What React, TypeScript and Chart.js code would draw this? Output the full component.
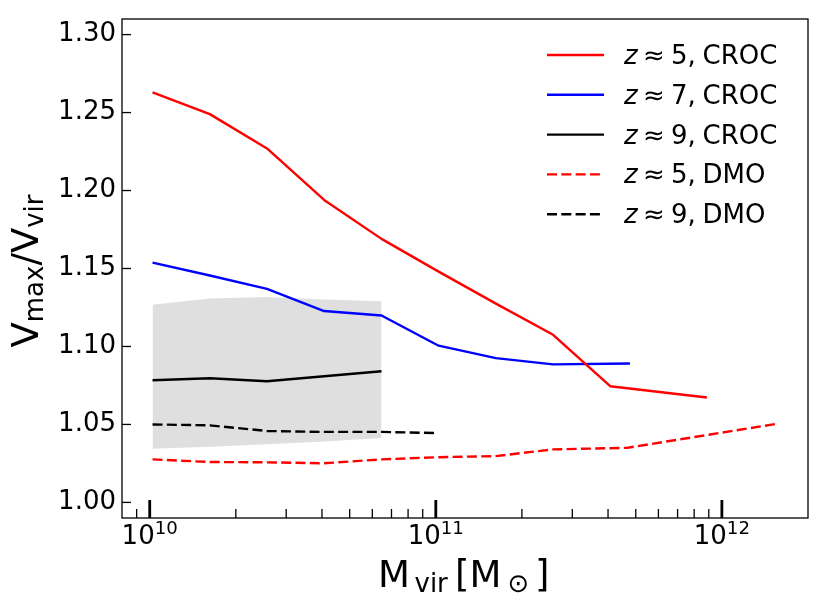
import React, { useEffect, useRef } from "react";
import { Chart, registerables } from "chart.js";

Chart.register(...registerables);

// ---- data ----
const massZ5CROC = [1.023e10, 1.622e10, 2.57e10, 4.07e10, 6.46e10, 1.023e11, 1.622e11, 2.57e11, 4.07e11, 8.86e11];
const vZ5CROC = [1.263, 1.249, 1.227, 1.194, 1.169, 1.148, 1.1275, 1.1075, 1.0745, 1.0673];

const massZ7CROC = [1.023e10, 1.622e10, 2.57e10, 4.07e10, 6.46e10, 1.023e11, 1.622e11, 2.57e11, 4.77e11];
const vZ7CROC = [1.1538, 1.1455, 1.1369, 1.1227, 1.1199, 1.1005, 1.0925, 1.0885, 1.0891];

const massZ9CROC = [1.023e10, 1.622e10, 2.57e10, 4.07e10, 6.46e10];
const vZ9CROC = [1.0783, 1.0796, 1.0777, 1.0809, 1.0841];
const vZ9Upper = [1.1267, 1.1307, 1.1318, 1.1301, 1.129];
const vZ9Lower = [1.0344, 1.0357, 1.0373, 1.039, 1.0413];

const massZ5DMO = [1.023e10, 1.622e10, 2.57e10, 4.07e10, 6.46e10, 1.023e11, 1.622e11, 2.57e11, 4.66e11, 1.57e12];
const vZ5DMO = [1.0276, 1.0259, 1.0257, 1.0251, 1.0276, 1.029, 1.0297, 1.034, 1.035, 1.0505];

const massZ9DMO = [1.023e10, 1.622e10, 2.57e10, 4.07e10, 6.46e10, 1.0e11];
const vZ9DMO = [1.05, 1.0494, 1.0458, 1.0452, 1.0452, 1.0445];

const yTicks = [1.0, 1.05, 1.1, 1.15, 1.2, 1.25, 1.3];
const xMajorTicks = [1e10, 1e11, 1e12];
const xTickBase = ["10", "10", "10"];
const xTickExp = ["10", "11", "12"];
const xMinorTicks = [
  9e9,
  2e10, 3e10, 4e10, 5e10, 6e10, 7e10, 8e10, 9e10,
  2e11, 3e11, 4e11, 5e11, 6e11, 7e11, 8e11, 9e11,
];

const legendZ = ["5", "7", "9", "5", "9"];
const legendRun = ["CROC", "CROC", "CROC", "DMO", "DMO"];

const FONT = '"DejaVu Sans", sans-serif';
const DASH = [10, 4.3];

function pts(xs: number[], ys: number[]) {
  return xs.map((x, i) => ({ x, y: ys[i] }));
}

const decorPlugin = {
  id: "decor",
  afterDraw(chart: any) {
    const { ctx, chartArea: a, scales } = chart;
    const xs = scales.x;
    const ys = scales.y;
    ctx.save();
    ctx.strokeStyle = "#000";
    ctx.fillStyle = "#000";
    const line = (x1: number, y1: number, x2: number, y2: number) => {
      ctx.beginPath();
      ctx.moveTo(x1, y1);
      ctx.lineTo(x2, y2);
      ctx.stroke();
    };
    // y ticks (inward)
    ctx.lineWidth = 1.3;
    for (const v of yTicks) {
      const y = ys.getPixelForValue(v);
      line(a.left, y, a.left + 9, y);
    }
    // x minor ticks
    for (const v of xMinorTicks) {
      if (v <= xs.min || v >= xs.max) continue;
      const x = xs.getPixelForValue(v);
      line(x, a.bottom, x, a.bottom - 9);
    }
    // x major ticks
    ctx.lineWidth = 2.8;
    for (const v of xMajorTicks) {
      const x = xs.getPixelForValue(v);
      line(x, a.bottom, x, a.bottom - 18);
    }
    // frame
    ctx.lineWidth = 1.3;
    ctx.strokeRect(a.left, a.top, a.right - a.left, a.bottom - a.top);

    // x tick labels with superscripts
    ctx.textAlign = "left";
    ctx.textBaseline = "alphabetic";
    xMajorTicks.forEach((v, i) => {
      const x = xs.getPixelForValue(v);
      ctx.font = `26px ${FONT}`;
      const wb = ctx.measureText(xTickBase[i]).width;
      ctx.font = `18.2px ${FONT}`;
      const we = ctx.measureText(xTickExp[i]).width;
      const x0 = x - (wb + we) / 2;
      ctx.font = `26px ${FONT}`;
      ctx.fillText(xTickBase[i], x0, a.bottom + 25.5);
      ctx.font = `18.2px ${FONT}`;
      ctx.fillText(xTickExp[i], x0 + wb, a.bottom + 15.5);
    });

    // x axis title: M_vir [M_sun]
    const cx = (a.left + a.right) / 2;
    const by = a.bottom + 68.7;
    const big = `37px ${FONT}`;
    const small = `26px ${FONT}`;
    const xPieces: [string, number, string, number][] = [
      ["M", -87, big, 0],
      ["vir", -50.5, small, 5.5],
      ["[", -10, big, 0],
      ["M", 4.5, big, 0],
      ["\u2299", 42.6, small, 5.5],
      ["]", 70, big, 0],
    ];
    for (const [t, dx, f, dy] of xPieces) {
      ctx.font = f;
      ctx.fillText(t, cx + dx, by + dy);
    }

    // y axis title: V_max / V_vir (rotated)
    const yPieces: [string, string, number][] = [
      ["V", big, 0],
      ["max", small, 5.5],
      ["/", big, 0],
      ["V", big, 0],
      ["vir", small, 5.5],
    ];
    let total = 0;
    const widths = yPieces.map(([t, f]) => {
      ctx.font = f;
      const w = ctx.measureText(t).width;
      total += w;
      return w;
    });
    ctx.save();
    const cy = (a.top + a.bottom) / 2 + 2.5;
    ctx.translate(37.5, cy);
    ctx.rotate(-Math.PI / 2);
    let px = -total / 2;
    yPieces.forEach(([t, f, dy], i) => {
      ctx.font = f;
      ctx.fillText(t, px, dy);
      px += widths[i];
    });
    ctx.restore();

    // legend
    const lineX1 = a.right - 261;
    const lineX2 = a.right - 204;
    const textX = a.right - 183;
    const rowY0 = a.top + 36;
    const rowStep = 39.8;
    const entries = chart.data.datasets.filter((d: any) => d.legendIndex !== undefined);
    entries.forEach((d: any) => {
      const i = d.legendIndex;
      const y = rowY0 + i * rowStep;
      ctx.save();
      ctx.strokeStyle = d.borderColor;
      ctx.lineWidth = d.borderWidth;
      ctx.setLineDash(d.borderDash || []);
      ctx.lineCap = "butt";
      line(lineX1, y, lineX2, y);
      ctx.restore();
      const b = y + 9;
      ctx.font = `italic 26px ${FONT}`;
      ctx.fillText("z", textX - 1, b);
      ctx.font = `26px ${FONT}`;
      ctx.fillText("\u2248", textX + 18, b);
      ctx.fillText(legendZ[i] + ",", textX + 46, b);
      ctx.fillText(legendRun[i], textX + 77.5, b);
    });
    ctx.restore();
  },
};

export default function App() {
  const ref = useRef<HTMLCanvasElement | null>(null);
  useEffect(() => {
    if (!ref.current) return;
    const common = {
      pointRadius: 0,
      pointHoverRadius: 0,
      borderWidth: 2.4,
      tension: 0,
      fill: false,
      borderJoinStyle: "round" as const,
    };
    const chart = new Chart(ref.current, {
      type: "line",
      data: {
        datasets: [
          { ...common, data: pts(massZ5CROC, vZ5CROC), borderColor: "#ff0000", legendIndex: 0 } as any,
          { ...common, data: pts(massZ7CROC, vZ7CROC), borderColor: "#0000ff", legendIndex: 1 } as any,
          { ...common, data: pts(massZ9CROC, vZ9CROC), borderColor: "#000000", legendIndex: 2 } as any,
          { ...common, data: pts(massZ5DMO, vZ5DMO), borderColor: "#ff0000", borderDash: DASH, legendIndex: 3 } as any,
          { ...common, data: pts(massZ9DMO, vZ9DMO), borderColor: "#000000", borderDash: DASH, legendIndex: 4 } as any,
          {
            data: pts(massZ9CROC, vZ9Lower),
            borderColor: "rgba(0,0,0,0)",
            borderWidth: 0,
            pointRadius: 0,
            fill: false,
            order: 10,
          },
          {
            data: pts(massZ9CROC, vZ9Upper),
            borderColor: "rgba(0,0,0,0)",
            borderWidth: 0,
            pointRadius: 0,
            backgroundColor: "#dfdfdf",
            fill: "-1",
            order: 10,
          },
        ],
      },
      options: {
        animation: false,
        responsive: false,
        events: [],
        layout: { padding: { top: 13, right: 13, left: 0, bottom: 0 } },
        plugins: {
          legend: { display: false },
          tooltip: { enabled: false },
        },
        scales: {
          x: {
            type: "logarithmic",
            min: 8e9,
            max: 2e12,
            ticks: { display: false },
            grid: { display: false, drawTicks: false },
            border: { display: false },
            afterFit: (s: any) => {
              s.height = 90;
            },
          },
          y: {
            type: "linear",
            min: 0.99,
            max: 1.31,
            grid: { display: false, drawTicks: false },
            border: { display: false },
            ticks: {
              color: "#000",
              padding: 6,
              font: { family: FONT, size: 26, lineHeight: 1 },
              callback: (v: any) => Number(v).toFixed(2),
            },
            afterBuildTicks: (s: any) => {
              s.ticks = yTicks.map((v) => ({ value: v }));
            },
            afterFit: (s: any) => {
              s.width = 122;
            },
          },
        },
      },
      plugins: [decorPlugin],
    });
    return () => chart.destroy();
  }, []);
  return (
    <div style={{ position: "fixed", left: 0, top: 0, width: 821, height: 608, background: "#fff" }}>
      <canvas ref={ref} width={821} height={608} style={{ width: 821, height: 608, display: "block" }} />
    </div>
  );
}
